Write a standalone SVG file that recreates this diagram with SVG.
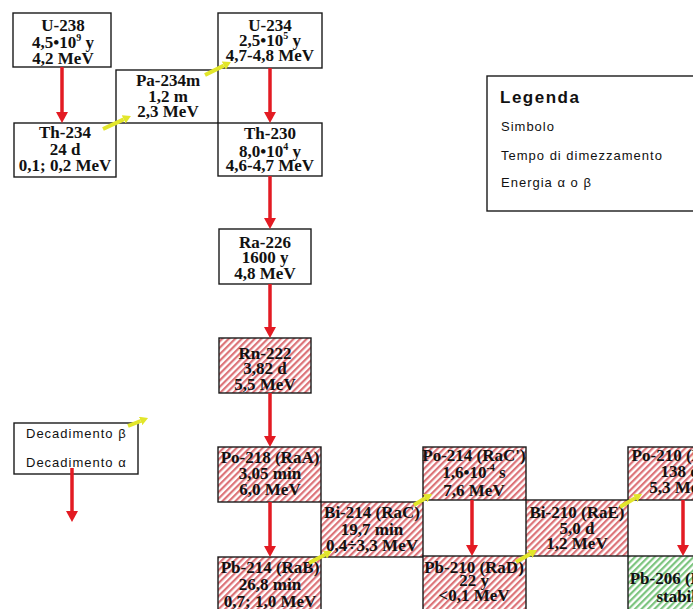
<svg xmlns="http://www.w3.org/2000/svg" width="693" height="609" viewBox="0 0 693 609">
<style>
.box{fill:#fff;stroke:#1a1a1a;stroke-width:1.4}
.red{fill:url(#hatchRed);stroke:#1a1a1a;stroke-width:1.4}
.green{fill:url(#hatchGreen);stroke:#1a1a1a;stroke-width:1.4}
.t{font-family:"Liberation Serif","Times New Roman",serif;font-weight:bold;font-size:17px;fill:#111;text-anchor:middle}
.sup{font-size:10px}
.lg{font-family:"Liberation Sans",Arial,sans-serif;font-size:13px;fill:#111;letter-spacing:1px}
.lgt{font-family:"Liberation Sans",Arial,sans-serif;font-size:17px;font-weight:bold;fill:#111;letter-spacing:1.5px}
.alpha{stroke:#e31b23;stroke-width:3.5;fill:none;marker-end:url(#headRed)}
.beta{stroke:#e2e62a;stroke-width:4;fill:none;marker-end:url(#headYel)}
</style>
<defs>
<pattern id="hatchRed" patternUnits="userSpaceOnUse" width="4.6" height="4.6" patternTransform="rotate(45)">
<rect width="4.6" height="4.6" fill="#fff"/>
<rect width="2.2" height="4.6" fill="#dc7378"/>
</pattern>
<pattern id="hatchGreen" patternUnits="userSpaceOnUse" width="4.6" height="4.6" patternTransform="rotate(45)">
<rect width="4.6" height="4.6" fill="#fff"/>
<rect width="2.2" height="4.6" fill="#7cc47e"/>
</pattern>
<marker id="headRed" markerUnits="userSpaceOnUse" markerWidth="11" markerHeight="12" refX="0" refY="6" orient="auto">
<path d="M0,0 L11,6 L0,12 Z" fill="#e31b23"/>
</marker>
<marker id="headYel" markerUnits="userSpaceOnUse" markerWidth="8" markerHeight="9" refX="0" refY="4.5" orient="auto">
<path d="M0,0 L8,4.5 L0,9 Z" fill="#e2e62a"/>
</marker>
</defs>
<rect width="693" height="609" fill="#fff"/>

<g id="U-238"><rect class="box" x="13" y="13" width="98" height="54"/>
<text class="t" x="63" y="31">U-238</text>
<text class="t" x="63" y="48">4,5•10<tspan class="sup" dy="-7">9</tspan><tspan dy="7"> y</tspan></text>
<text class="t" x="63" y="64">4,2 MeV</text></g>

<g id="Pa-234m"><rect class="box" x="116" y="70" width="102" height="53"/>
<text class="t" x="168" y="86">Pa-234m</text>
<text class="t" x="168" y="102">1,2 m</text>
<text class="t" x="168" y="117">2,3 MeV</text></g>

<g id="Th-234"><rect class="box" x="14" y="123" width="102" height="54"/>
<text class="t" x="65" y="138">Th-234</text>
<text class="t" x="65" y="155">24 d</text>
<text class="t" x="65" y="171">0,1; 0,2 MeV</text></g>

<g id="U-234"><rect class="box" x="218" y="13" width="104" height="55"/>
<text class="t" x="270" y="31">U-234</text>
<text class="t" x="270" y="46">2,5•10<tspan class="sup" dy="-7">5</tspan><tspan dy="7"> y</tspan></text>
<text class="t" x="270" y="61">4,7-4,8 MeV</text></g>

<g id="Th-230"><rect class="box" x="218" y="123" width="104" height="53"/>
<text class="t" x="270" y="139">Th-230</text>
<text class="t" x="270" y="157">8,0•10<tspan class="sup" dy="-7">4</tspan><tspan dy="7"> y</tspan></text>
<text class="t" x="270" y="171">4,6-4,7 MeV</text></g>

<g id="Ra-226"><rect class="box" x="219" y="229" width="92" height="55"/>
<text class="t" x="265" y="248">Ra-226</text>
<text class="t" x="265" y="263">1600 y</text>
<text class="t" x="265" y="279">4,8 MeV</text></g>

<g id="Rn-222"><rect class="red" x="219" y="338" width="92" height="55"/>
<text class="t" x="265" y="359">Rn-222</text>
<text class="t" x="265" y="374">3,82 d</text>
<text class="t" x="265" y="390">5,5 MeV</text></g>

<g id="Po-218"><rect class="red" x="218" y="447" width="103" height="55"/>
<text class="t" x="270" y="463">Po-218 (RaA)</text>
<text class="t" x="270" y="479">3,05 min</text>
<text class="t" x="270" y="495">6,0 MeV</text></g>

<g id="Bi-214"><rect class="red" x="321" y="502" width="102" height="55"/>
<text class="t" x="372" y="518">Bi-214 (RaC)</text>
<text class="t" x="372" y="535">19,7 min</text>
<text class="t" x="372" y="551">0,4÷3,3 MeV</text></g>

<g id="Pb-214"><rect class="red" x="218" y="557" width="103" height="60"/>
<text class="t" x="270" y="573">Pb-214 (RaB)</text>
<text class="t" x="270" y="590">26,8 min</text>
<text class="t" x="270" y="607">0,7; 1,0 MeV</text></g>

<g id="Po-214"><rect class="red" x="423" y="447" width="103" height="53"/>
<text class="t" x="474" y="461">Po-214 (RaC')</text>
<text class="t" x="474" y="478">1,6•10<tspan class="sup" dy="-7">-4</tspan><tspan dy="7"> s</tspan></text>
<text class="t" x="474" y="496">7,6 MeV</text></g>

<g id="Bi-210"><rect class="red" x="526" y="500" width="102" height="56"/>
<text class="t" x="577" y="518">Bi-210 (RaE)</text>
<text class="t" x="577" y="534">5,0 d</text>
<text class="t" x="577" y="549">1,2 MeV</text></g>

<g id="Pb-210"><rect class="red" x="423" y="556" width="103" height="60"/>
<text class="t" x="474" y="573">Pb-210 (RaD)</text>
<text class="t" x="474" y="586">22 y</text>
<text class="t" x="474" y="601">&lt;0,1 MeV</text></g>

<g id="Po-210"><rect class="red" x="628" y="447" width="103" height="53"/>
<text class="t" x="680" y="461">Po-210 (RaF)</text>
<text class="t" x="680" y="477">138 d</text>
<text class="t" x="680" y="493">5,3 MeV</text></g>

<g id="Pb-206"><rect class="green" x="628" y="556" width="103" height="60"/>
<text class="t" x="680" y="584">Pb-206 (RaG)</text>
<text class="t" x="680" y="602">stabile</text></g>

<g id="legenda"><rect class="box" x="487" y="76" width="215" height="135"/>
<text class="lgt" x="500" y="103">Legenda</text>
<text class="lg" x="501" y="131">Simbolo</text>
<text class="lg" x="501" y="160">Tempo di dimezzamento</text>
<text class="lg" x="501" y="187">Energia α o β</text></g>

<g id="legenda-decadimento"><rect class="box" x="14" y="423" width="124" height="51"/>
<text class="lg" x="26" y="438">Decadimento β</text>
<text class="lg" x="26" y="467">Decadimento α</text></g>

<g id="connectors">
<line class="alpha" x1="62" y1="67" x2="62" y2="112"/>
<line class="alpha" x1="270" y1="68" x2="270" y2="112"/>
<line class="alpha" x1="270" y1="176" x2="270" y2="218"/>
<line class="alpha" x1="270" y1="284" x2="270" y2="327"/>
<line class="alpha" x1="270" y1="393" x2="270" y2="436"/>
<line class="alpha" x1="270" y1="502" x2="270" y2="546"/>
<line class="alpha" x1="472" y1="500" x2="472" y2="545"/>
<line class="alpha" x1="683" y1="500" x2="683" y2="545"/>
<line class="alpha" x1="72" y1="468" x2="72" y2="511"/>
<line class="beta" x1="103" y1="129" x2="123.7" y2="119.4"/>
<line class="beta" x1="205" y1="75" x2="223.8" y2="65.6"/>
<line class="beta" x1="309" y1="563" x2="324.9" y2="554.7"/>
<line class="beta" x1="414" y1="505" x2="425.2" y2="498.2"/>
<line class="beta" x1="516" y1="562" x2="530.1" y2="554"/>
<line class="beta" x1="620" y1="507" x2="635.1" y2="498.1"/>
<line class="beta" x1="128" y1="426" x2="140.6" y2="421"/>
</g>
</svg>
